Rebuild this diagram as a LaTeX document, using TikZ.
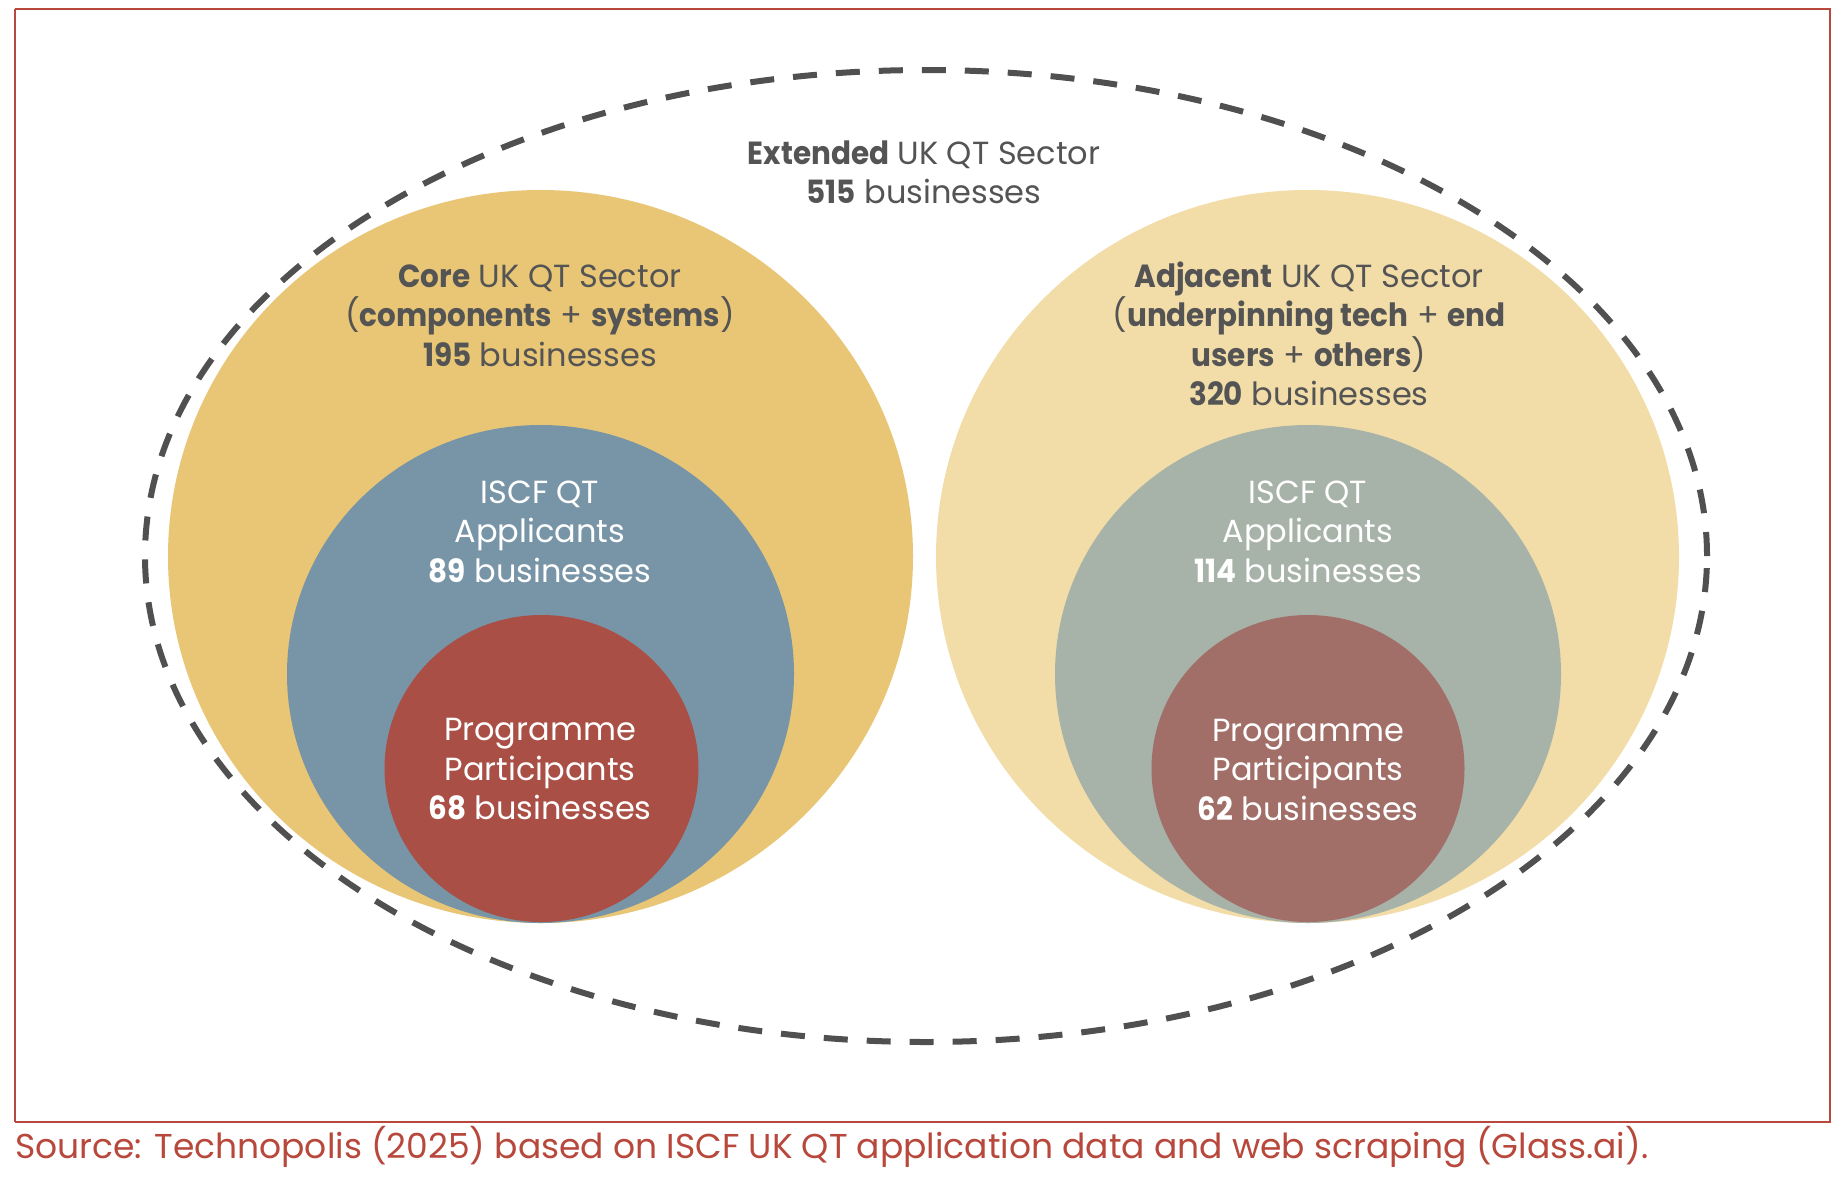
\documentclass[tikz,border=0pt]{standalone}
\usepackage{fontspec}
\setmainfont{Poppins}[BoldFeatures={FakeStretch=0.92}]
\usetikzlibrary{shapes.geometric}
\definecolor{coreY}{RGB}{232,198,117}
\definecolor{adjY}{RGB}{242,221,168}
\definecolor{appBlue}{RGB}{120,149,168}
\definecolor{appGrey}{RGB}{167,178,168}
\definecolor{partRed}{RGB}{169,79,69}
\definecolor{partRose}{RGB}{161,111,104}
\definecolor{dashGrey}{RGB}{80,80,80}
\definecolor{txtGrey}{RGB}{84,84,84}
\definecolor{frameRed}{RGB}{184,72,60}
\begin{document}
\begin{tikzpicture}[x=1pt,y=-1pt,
  blob/.style={ellipse, inner sep=0pt, outer sep=0pt, draw=none},
  lbl/.style={align=center, inner sep=0pt, font=\fontsize{32}{39.5}\selectfont},
  darklbl/.style={lbl, text=txtGrey},
  lightlbl/.style={lbl, text=white},
  frameline/.style={draw=frameRed, line width=2pt},
  dashring/.style={draw=dashGrey, line width=6pt, dash pattern=on 24pt off 19pt}]
\useasboundingbox (0,0) rectangle (1844,1176);
\fill[white] (0,0) rectangle (1844,1176);
% frame
\coordinate (tl) at (15,9);
\coordinate (tr) at (1830,9);
\coordinate (br) at (1830,1122);
\coordinate (bl) at (15,1122);
\draw[frameline] (tl) -- (tr) -- (br) -- (bl);
\draw[draw=frameRed, line width=1.2pt] (bl) -- (tl);
% extended sector
\node[blob, dashring, minimum width=1562pt, minimum height=972pt] (ext) at (926,556) {};
% left: core
\node[blob, fill=coreY, minimum width=745pt, minimum height=733pt] (core) at (540.5,556.5) {};
\node[blob, fill=appBlue, minimum width=507pt, minimum height=498pt] (appL) at (540.5,674) {};
\node[blob, fill=partRed, minimum width=314pt, minimum height=307pt] (partL) at (541.5,768.5) {};
% right: adjacent
\node[blob, fill=adjY, minimum width=743pt, minimum height=733pt] (adj) at (1307.5,556.5) {};
\node[blob, fill=appGrey, minimum width=506pt, minimum height=498pt] (appR) at (1308,674) {};
\node[blob, fill=partRose, minimum width=313pt, minimum height=307pt] (partR) at (1308,768.5) {};
% labels
\node[darklbl] (extL) at (924,172.5) {\textbf{Extended} UK QT Sector\\\textbf{515} businesses};
\node[darklbl] (coreL) at (540,315.5) {\textbf{Core} UK QT Sector\\(\textbf{components} + \textbf{systems})\\\textbf{195} businesses};
\node[darklbl] (adjL) at (1309,334) {\textbf{Adjacent} UK QT Sector\\(\textbf{underpinning tech} + \textbf{end}\\\textbf{users} + \textbf{others})\\\textbf{320} businesses};
\node[lightlbl] (appLL) at (540,531.5) {ISCF QT\\Applicants\\\textbf{89} businesses};
\node[lightlbl] (appRL) at (1308,531.5) {ISCF QT\\Applicants\\\textbf{114} businesses};
\node[lightlbl] (partLL) at (540,769.5) {Programme\\Participants\\\textbf{68} businesses};
\node[lightlbl] (partRL) at (1308,769.5) {Programme\\Participants\\\textbf{62} businesses};
% source
\node[anchor=west, inner sep=0pt, text=frameRed, font=\fontsize{34.5}{40}\selectfont] (src) at (15,1147) {Source: Technopolis (2025) based on ISCF UK QT application data and web scraping (Glass.ai).};
\end{tikzpicture}
\end{document}
